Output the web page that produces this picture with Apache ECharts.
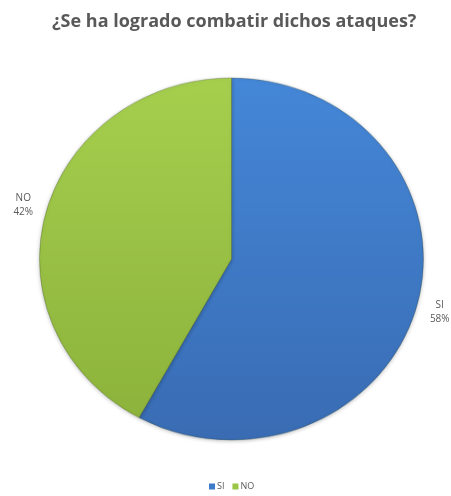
<!DOCTYPE html>
<html>
<head>
<meta charset="utf-8">
<script src="https://cdn.jsdelivr.net/npm/echarts@6/dist/echarts.min.js"></script>
<style>
html,body{margin:0;padding:0;background:#fff;}
#wrap{position:relative;width:451px;height:496px;overflow:hidden;}
#pie{position:absolute;left:0;top:0;width:451px;height:496px;transform:scaleY(0.943);transform-origin:231px 259px;}
#txt{position:absolute;left:0;top:0;width:451px;height:496px;}
</style>
</head>
<body>
<div id="wrap">
<div id="pie"></div>
<div id="txt"></div>
</div>
<script>
var titleText = '¿Se ha logrado combatir dichos ataques?';
var categories = ['SI', 'NO'];
var values = [58, 42];

var colors = [
  new echarts.graphic.LinearGradient(0, 0, 0, 1, [{offset: 0, color: '#4587d8'}, {offset: 1, color: '#396cb3'}]),
  new echarts.graphic.LinearGradient(0, 0, 0, 1, [{offset: 0, color: '#a6cf4e'}, {offset: 1, color: '#8db33c'}])
];
var legendColors = ['#3e7ccb', '#9bc544'];

var pieData = categories.map(function (c, i) {
  return {name: c, value: values[i], itemStyle: {color: colors[i]}};
});
var labelData = categories.map(function (c, i) {
  return {name: c, value: values[i]};
});
var legendData = categories.map(function (c, i) {
  return {name: c, itemStyle: {color: legendColors[i], opacity: 1}};
});

var pieChart = echarts.init(document.getElementById('pie'), null, {renderer: 'canvas'});
pieChart.setOption({
  animation: false,
  series: [{
    type: 'pie',
    center: [231.5, 259],
    radius: [0, 192],
    startAngle: 90,
    clockwise: true,
    label: {show: false},
    labelLine: {show: false},
    itemStyle: {
      borderColor: 'rgba(40,60,30,0.35)',
      borderWidth: 0.8,
      shadowBlur: 4,
      shadowColor: 'rgba(0,0,0,0.25)',
      shadowOffsetY: 1
    },
    data: pieData
  }]
});

var txtChart = echarts.init(document.getElementById('txt'), null, {renderer: 'canvas'});
txtChart.setOption({
  animation: false,
  color: legendColors,
  title: {
    text: titleText,
    left: 47,
    top: 8,
    textStyle: {
      fontFamily: 'Open Sans',
      fontWeight: 'bold',
      fontSize: 18,
      color: '#595959'
    }
  },
  legend: {
    data: legendData,
    bottom: 0,
    left: 204,
    itemWidth: 6,
    itemHeight: 6,
    itemGap: 8,
    icon: 'rect',
    textStyle: {fontFamily: 'Open Sans', fontSize: 9, color: '#595959', padding: [0, 0, 0, -3]}
  },
  series: [{
    type: 'pie',
    center: [231.5, 259],
    radius: [194, 230],
    startAngle: 90,
    clockwise: true,
    silent: true,
    legendHoverLink: false,
    itemStyle: {color: 'rgba(0,0,0,0)'},
    label: {
      show: true,
      position: 'inside',
      formatter: '{b}\n{d}%',
      fontFamily: 'Open Sans',
      fontSize: 10,
      lineHeight: 14,
      color: '#595959',
      align: 'center'
    },
    labelLine: {show: false},
    data: labelData
  }]
});
</script>
</body>
</html>
